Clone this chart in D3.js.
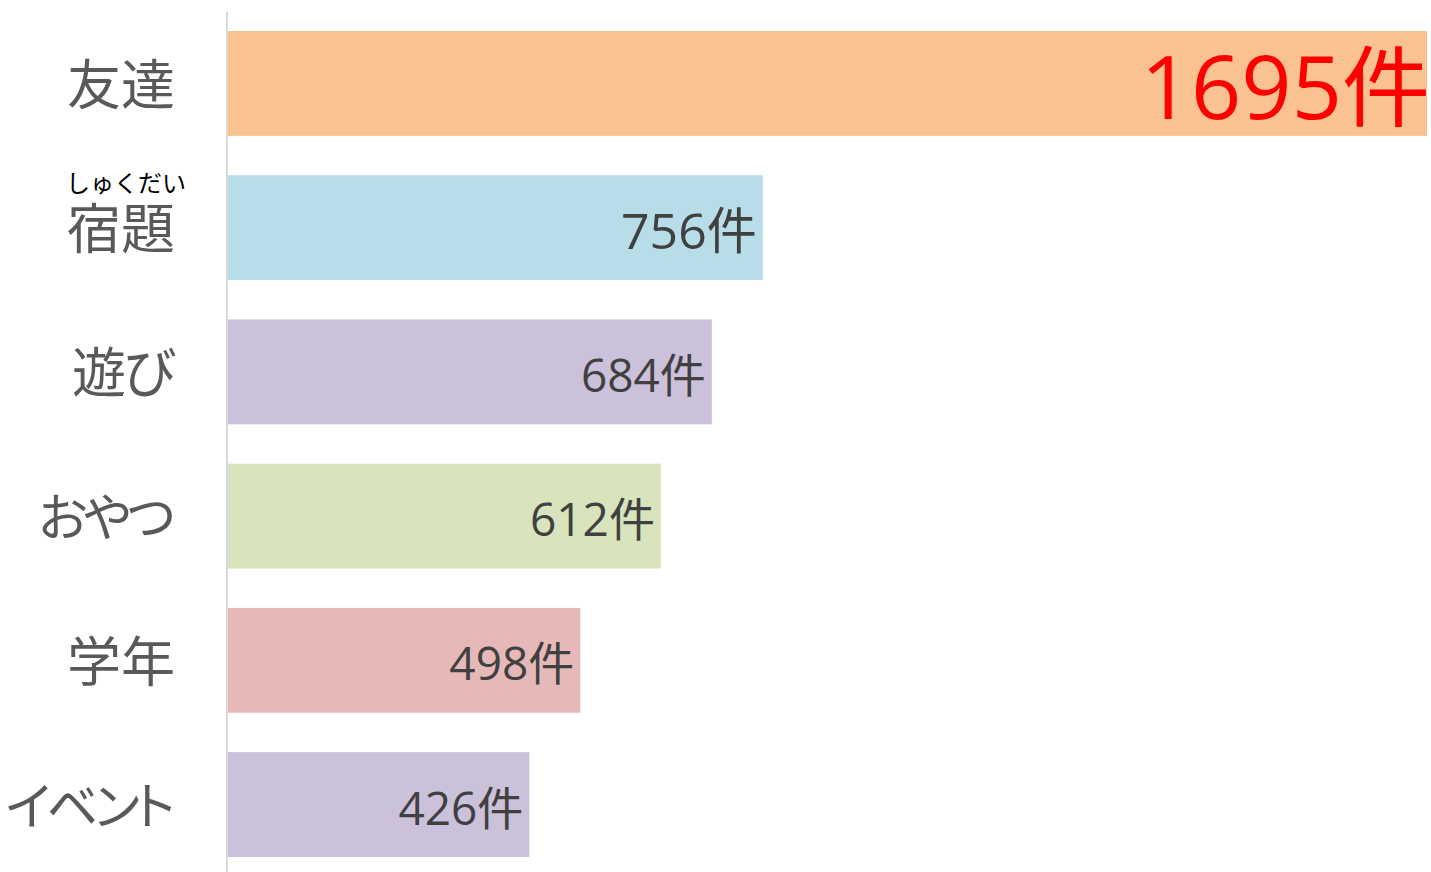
<!DOCTYPE html>
<html><head><meta charset="utf-8">
<script src="https://cdn.jsdelivr.net/npm/d3@7"></script>
<style>html,body{margin:0;padding:0;background:#fff;}svg{display:block;}</style>
</head><body>
<svg id="c" width="1431" height="872"></svg>
<script>
const categories = ["友達", "宿題", "遊び", "おやつ", "学年", "イベント"];
const values = [1695, 756, 684, 612, 498, 426];
const colors = ["#F9C290", "#B7DDE8", "#CCC1DA", "#D8E4BC", "#E6B9B8", "#CCC1DA"];
const rubies = ["", "しゅくだい", "", "", "", ""];
const unit = "件";

const svg = d3.select("#c");
const cjk = "'Noto Sans CJK JP', 'Noto Sans', sans-serif";
const numFont = "'Open Sans', 'Noto Sans CJK JP', sans-serif";
const x = d3.scaleLinear().domain([0, 1695]).range([228, 1427]);
const y = d3.scaleBand().domain(categories).range([31, 857]).paddingInner(0.273).paddingOuter(0);

svg.selectAll("rect.bar").data(categories).join("rect")
  .attr("x", x(0)).attr("y", d => y(d))
  .attr("width", (d, i) => x(values[i]) - x(0))
  .attr("height", y.bandwidth())
  .attr("fill", (d, i) => colors[i]);

svg.append("line").attr("x1", 227).attr("x2", 227).attr("y1", 12).attr("y2", 872)
  .attr("stroke", "#D9D9D9").attr("stroke-width", 2);

const kanaCount = d => (d.match(/[\u3040-\u30ff]/g) || []).length;
const allKana = d => kanaCount(d) === d.length;
const ls = d => allKana(d) ? -4 : (kanaCount(d) ? -3 : 0);
const catSize = d => allKana(d) ? 51 : 54;

svg.selectAll("text.cat").data(categories).join("text")
  .attr("x", d => 175 + ls(d)).attr("y", d => y(d) + y.bandwidth() / 2 - 2)
  .attr("text-anchor", "end").attr("dominant-baseline", "central")
  .attr("font-family", cjk).attr("font-size", d => catSize(d)).attr("fill", "#595959")
  .style("font-feature-settings", "'palt'")
  .style("letter-spacing", d => ls(d) + "px")
  .text(d => d);

svg.selectAll("text.ruby").data(categories.filter((d, i) => rubies[i])).join("text")
  .attr("x", 126).attr("y", d => y(d) + y.bandwidth() / 2 - 46)
  .attr("text-anchor", "middle").attr("dominant-baseline", "central")
  .attr("font-family", cjk).attr("font-size", 24).attr("fill", "#000")
  .text(d => rubies[categories.indexOf(d)]);

const valSize = i => i === 0 ? 88 : (i === 1 ? 50 : 46);
svg.selectAll("text.val").data(categories).join("text")
  .attr("x", (d, i) => x(values[i]) - (i === 0 ? -3 : 6))
  .attr("y", (d, i) => y(d) + y.bandwidth() / 2 + (i === 0 ? 36 : (i === 1 ? 21 : 20)))
  .attr("text-anchor", "end")
  .attr("font-family", numFont)
  .attr("font-size", (d, i) => valSize(i))
  .attr("fill", (d, i) => i === 0 ? "#FF0000" : "#404040")
  .text((d, i) => values[i] + unit);
</script>
</body></html>
